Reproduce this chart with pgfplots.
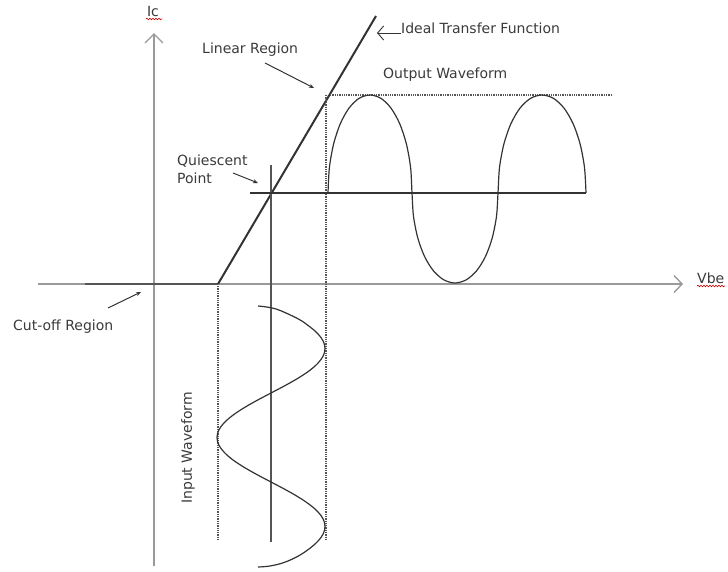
\documentclass[border=0pt]{standalone}
\usepackage{fontspec}
\setmainfont{DejaVu Sans}
\usepackage{pgfplots}
\pgfplotsset{compat=1.18}
\usetikzlibrary{arrows.meta,decorations.pathmorphing}
\definecolor{axgray}{HTML}{9A9A9A}
\definecolor{dk}{HTML}{333333}
\definecolor{md}{HTML}{555555}
\definecolor{txt}{HTML}{3A3A3A}
\tikzset{lbl/.style={font=\fontsize{14}{16}\selectfont,text=txt,inner sep=0pt}}
\begin{document}
\begin{tikzpicture}
\begin{axis}[width=728pt,height=571pt,scale only axis,
  xmin=0,xmax=728,ymin=0,ymax=571,y dir=reverse,
  hide axis,clip=false]
\path (axis cs:0,0) rectangle (axis cs:728,571);
% axes
\addplot[axgray,line width=2pt,-{Straight Barb[length=9pt,width=18pt,line width=1.4pt]}] coordinates {(154,566) (154,33)};
\addplot[axgray,line width=2pt,-{Straight Barb[length=8pt,width=17pt,line width=1.4pt]}] coordinates {(38,284) (683,284)};
% cut-off region
\addplot[md,line width=2.2pt] coordinates {(85,284) (218,284)};
% transfer function
\addplot[dk,line width=2pt] coordinates {(218,284) (376,16)};
% dotted guides
\addplot[md,line width=1.3pt,densely dotted] coordinates {(330,95) (612,95)};
\addplot[md,line width=1.3pt,densely dotted] coordinates {(326,95) (326,540)};
\addplot[md,line width=1.3pt,densely dotted] coordinates {(218,286) (218,540)};
% quiescent lines
\addplot[md,line width=2pt] coordinates {(271,165) (271,542)};
\addplot[dk,line width=2pt] coordinates {(250,193) (586,193)};
% output waveform
\addplot[dk,line width=1.2pt,smooth,tension=0.5] coordinates {
(328,193) (329.4,167.6) (333.6,144) (340.3,123.7) (349,108.1) (359.1,98.3) (370,95)
(380.9,98.3) (391,108.1) (399.7,123.7) (406.4,144) (410.6,167.6) (412,193)
(413.5,216.3) (417.8,238) (424.6,256.6) (433.5,270.9) (443.9,279.9) (455,283)
(466.1,279.9) (476.5,270.9) (485.4,256.6) (492.2,238) (496.5,216.3) (498,193)
(499.5,167.6) (503.9,144) (510.9,123.7) (520,108.1) (530.6,98.3) (542,95)
(553.4,98.3) (564,108.1) (573.1,123.7) (580.1,144) (584.5,167.6) (586,193)};
% input waveform
\addplot[dk,line width=1.2pt,smooth,tension=0.6] coordinates {
(258,306) (276,309) (298,318.8) (309.2,326.3) (317.8,333.7) (323.2,341.1) (325,348.5)
(323.2,355.9) (317.8,363.3) (309.2,370.8) (298,378.2) (285,385.6) (271,393)
(257,400.4) (244,407.8) (232.8,415.3) (224.2,422.7) (218.8,430.1) (217,437.5)
(218.8,444.9) (224.2,452.3) (232.8,459.8) (244,467.2) (257,474.6) (271,482)
(285,489.4) (298,496.8) (309.2,504.3) (317.8,511.7) (323.2,519.1) (325,526.5)
(323.2,533.9) (317.8,541.3) (309.2,548.8) (298,556.2) (284,562.5) (270,566) (258,567)};
% labels
\node[lbl,anchor=west] at (axis cs:401,28) {Ideal Transfer Function};
\draw[dk,line width=0.9pt,-{Straight Barb[length=6pt,width=14pt,line width=0.9pt]}] (axis cs:401,33) -- (axis cs:377,33);
\node[lbl,anchor=west] at (axis cs:202,50) {Linear Region};
\draw[dk,line width=1pt,-{Stealth[length=5pt,width=4pt]}] (axis cs:265,63) -- (axis cs:314,88);
\node[lbl,anchor=west] at (axis cs:383,75) {Output Waveform};
\node[lbl,anchor=west] at (axis cs:177,161) {Quiescent};
\node[lbl,anchor=west] at (axis cs:177,178) {Point};
\draw[dk,line width=1pt,-{Stealth[length=5pt,width=4pt]}] (axis cs:233,173) -- (axis cs:258,183);
\node[lbl,anchor=west] at (axis cs:13,327) {Cut-off Region};
\draw[dk,line width=1pt,-{Stealth[length=5pt,width=4pt]}] (axis cs:108,308) -- (axis cs:141,292);
\node[lbl,rotate=90] at (axis cs:188,448) {Input Waveform};
\node[lbl] at (axis cs:153,11) {Ic};
\draw[red!80!black,line width=0.6pt,decorate,decoration={snake,amplitude=0.8pt,segment length=3pt}] (axis cs:146,19) -- (axis cs:162,19);
\node[lbl,anchor=west] at (axis cs:697,278) {Vbe};
\draw[red!80!black,line width=0.6pt,decorate,decoration={snake,amplitude=0.8pt,segment length=3pt}] (axis cs:697,286) -- (axis cs:725,286);
\end{axis}
\end{tikzpicture}
\end{document}
